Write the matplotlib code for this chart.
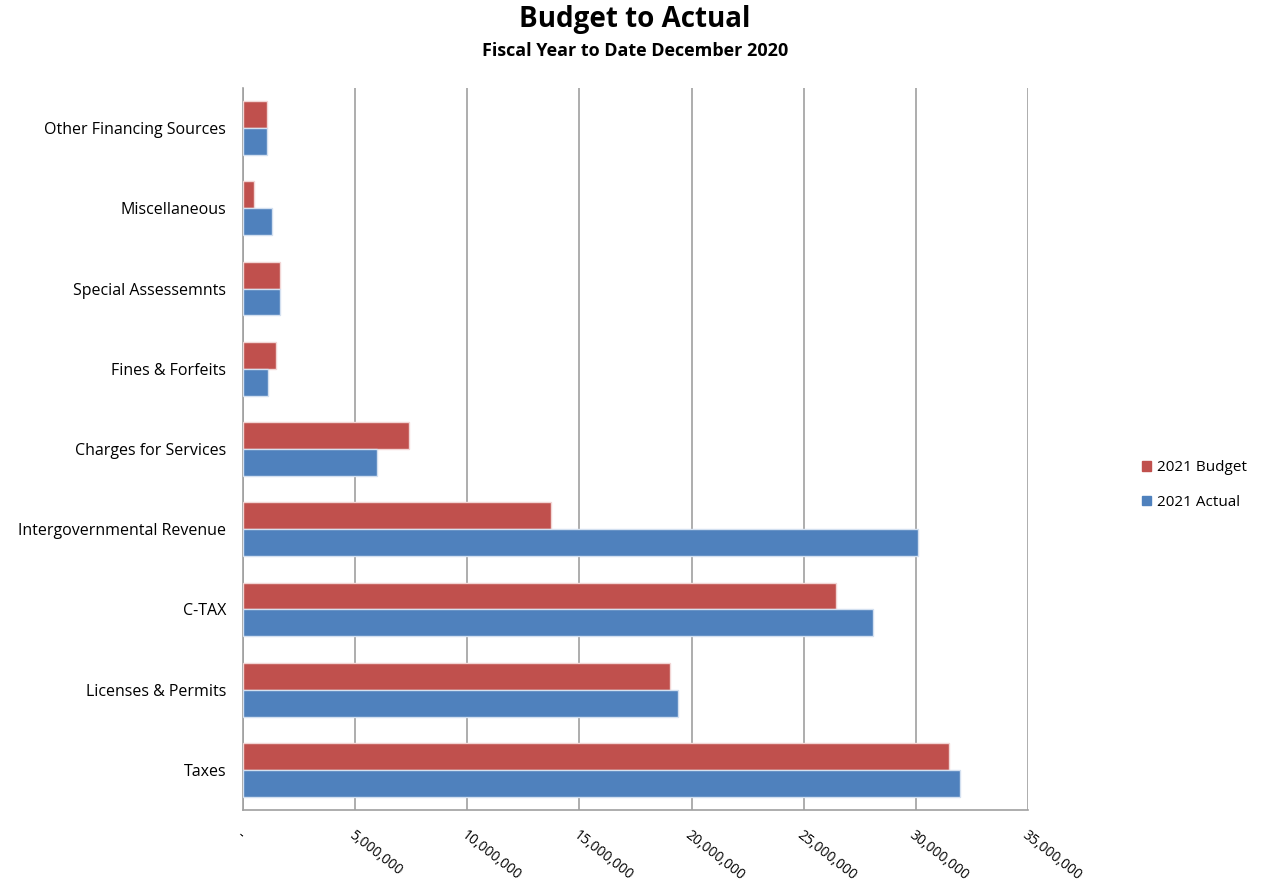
import matplotlib
matplotlib.use("Agg")
import matplotlib.pyplot as plt
import numpy as np
from matplotlib.patches import Patch

categories = ["Taxes", "Licenses & Permits", "C-TAX", "Intergovernmental Revenue",
              "Charges for Services", "Fines & Forfeits", "Special Assessemnts",
              "Miscellaneous", "Other Financing Sources"]
budget_2021 = [31480000, 19040000, 26460000, 13740000, 7390000, 1450000, 1650000, 510000, 1060000]
actual_2021 = [31970000, 19380000, 28080000, 30100000, 5960000, 1120000, 1650000, 1310000, 1060000]
tick_values = [0, 5000000, 10000000, 15000000, 20000000, 25000000, 30000000, 35000000]
tick_labels = ["-", "5,000,000", "10,000,000", "15,000,000", "20,000,000",
               "25,000,000", "30,000,000", "35,000,000"]

plt.rcParams['font.family'] = ['Open Sans', 'DejaVu Sans']

fig = plt.figure(figsize=(12.62, 8.88), dpi=100)
ax = fig.add_axes([243/1262, 1-810/888, (1028-243)/1262, (810-88)/888])

red = "#C0504D"
blue = "#4F81BD"
h = 0.335
y = np.arange(len(categories))
ax.barh(y + h/2, budget_2021, height=h, color=red, edgecolor="#f2d6d5", linewidth=1, zorder=3)
ax.barh(y - h/2, actual_2021, height=h, color=blue, edgecolor="#d3e0f0", linewidth=1, zorder=3)

ax.set_ylim(-0.5, len(categories) - 0.5)
ax.set_xlim(0, 35000000)
ax.set_yticks(y)
ax.set_yticklabels(categories, fontsize=11.5)
ax.set_xticks(tick_values)
ax.set_xticklabels(tick_labels, fontsize=10, rotation=-38, ha='left', va='top', rotation_mode='anchor')
ax.tick_params(axis='x', length=0, pad=13)
ax.tick_params(axis='y', length=0, pad=12)

ax.grid(axis='x', color='#a0a0a0', linewidth=1.2, zorder=0)
for s in ['top', 'right']:
    ax.spines[s].set_visible(False)
for s in ['left', 'bottom']:
    ax.spines[s].set_color('#a0a0a0')
    ax.spines[s].set_linewidth(1.2)

fig.text(635/1262, 1-19/888, "Budget to Actual", ha='center', va='center', fontsize=20, fontweight='bold')
fig.text(635/1262, 1-51/888, "Fiscal Year to Date December 2020", ha='center', va='center', fontsize=13, fontweight='bold')

handles = [Patch(color=red, label="2021 Budget"), Patch(color=blue, label="2021 Actual")]
fig.legend(handles=handles, loc='center left', bbox_to_anchor=(1128/1262, 1-485/888), frameon=False,
           fontsize=11, handlelength=0.6, handleheight=0.6, handletextpad=0.4, labelspacing=1.3)

fig.savefig("out.png", dpi=100)
